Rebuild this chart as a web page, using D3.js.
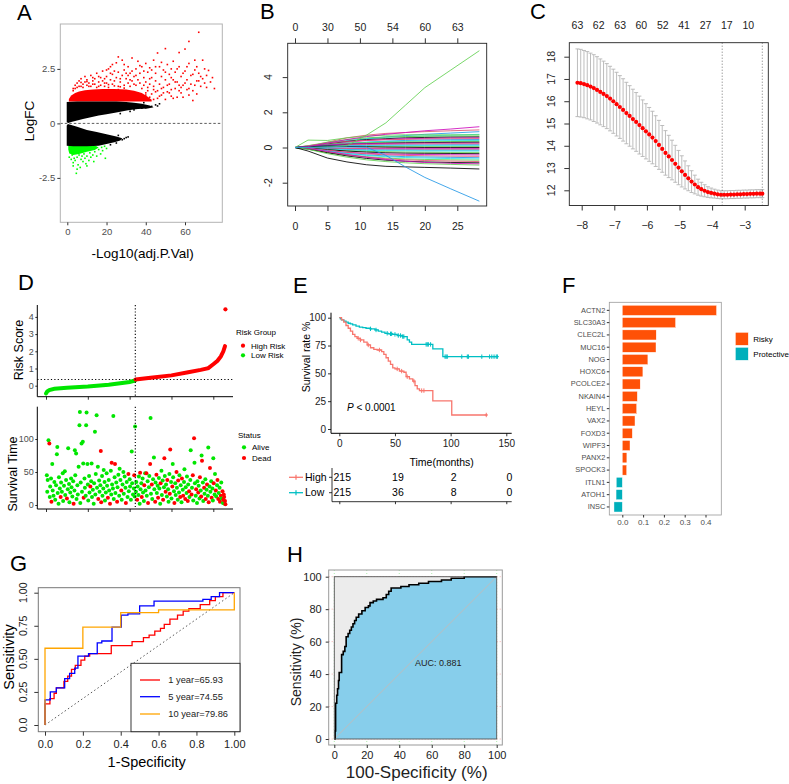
<!DOCTYPE html>
<html><head><meta charset="utf-8">
<script src="https://cdn.jsdelivr.net/npm/d3@7/dist/d3.min.js"></script>
<style>
body{margin:0;background:#fff}
svg{display:block}
</style></head><body>
<svg id="c" width="789" height="784"></svg>
<script>
// ================= DATA =================
// Panel A: volcano plot (-log10 adj P, logFC)
const volcanoBlackUpper = [[-0.3,0.05],[-0.3,0.98],[5,1.0],[15,1.0],[25,1.0],[30,0.98],[34,0.95],[38,0.9],[42,0.82],[44,0.74],[41,0.68],[36,0.66],[31,0.6],[25,0.5],[20,0.42],[16,0.36],[12,0.28],[8,0.2],[5,0.13],[2,0.06],[0.5,0.02]];
const volcanoBlackLower = [[0.3,-0.03],[5,-0.15],[10,-0.3],[15,-0.4],[20,-0.5],[25,-0.6],[28,-0.68],[27,-0.78],[24,-0.86],[20,-0.95],[16,-1.02],[10,-1.05],[3,-1.05],[-0.3,-1.02],[-0.3,-0.1]];
const volcanoBlackPts = [[32,0.55],[34,0.62],[38,0.7],[40,0.72],[43,0.78],[45,0.85],[46,0.8],[27,0.45],[29,-0.7],[30,-0.65],[28,-0.75],[25,-0.9],[22,-0.98],[31,-0.62],[26,-0.55],[33,0.9],[36,0.85],[39,0.95],[47,0.9]];
const volcanoRedCore = [[0.8,1.0],[0.8,1.12],[2,1.28],[4,1.4],[6,1.46],[9,1.52],[13,1.56],[18,1.58],[24,1.58],[30,1.55],[34,1.5],[38,1.4],[41,1.22],[43,1.08],[43,1.0]];
const volcanoRed = [[3,1.6],[4,1.75],[5,1.85],[5,1.65],[6,1.95],[7,1.7],[7,2.05],[8,1.8],[9,1.9],[9,2.15],[10,1.75],[10,2.0],[11,1.85],[12,2.2],[12,1.7],[13,1.95],[14,2.05],[14,1.8],[15,2.3],[15,1.65],[16,1.9],[17,2.1],[17,1.75],[18,2.4],[18,1.95],[19,1.7],[20,2.15],[20,1.85],[21,2.5],[21,1.65],[22,2.0],[22,2.6],[23,1.8],[23,2.25],[24,1.95],[25,2.78],[25,2.1],[26,1.7],[26,2.35],[27,1.9],[28,2.2],[28,2.9],[29,1.75],[29,2.45],[30,2.05],[31,1.85],[31,2.6],[32,2.3],[33,1.95],[33,3.0],[34,2.15],[35,1.75],[35,2.5],[36,2.0],[36,2.85],[37,1.85],[37,2.3],[38,2.6],[38,1.6],[39,2.1],[40,1.9],[40,2.75],[41,2.35],[41,1.5],[42,1.8],[42,2.55],[43,2.1],[43,1.35],[44,2.9],[44,1.7],[45,2.3],[45,1.95],[46,3.23],[46,1.5],[47,2.6],[47,1.8],[48,2.15],[48,1.3],[49,2.45],[49,1.65],[50,3.43],[50,2.0],[51,1.45],[51,2.7],[52,2.25],[52,1.8],[53,2.5],[53,1.25],[54,2.0],[54,2.85],[55,1.6],[55,2.35],[56,1.9],[57,3.25],[57,2.6],[58,2.15],[58,1.4],[59,1.75],[60,3.41],[60,2.4],[61,2.0],[61,1.55],[62,3.76],[62,2.75],[63,2.2],[63,1.8],[64,1.5],[65,2.45],[65,2.9],[66,1.95],[67,4.18],[67,2.3],[68,1.7],[69,2.9],[69,2.05],[70,2.5],[71,2.2],[72,2.43],[73,1.9],[75,1.6],[74,2.1],[66,1.35],[56,1.2],[46,1.15],[36,1.4],[30,1.5],[26,1.55],[44,1.1],[47,1.25],[50,1.1],[52,1.4],[54,1.15],[57,1.5],[59,1.2],[62,1.3],[64,1.05],[40,1.3],[38,1.1],
[4,1.6],[6,1.7],[8,1.65],[11,1.7],[13,1.8],[16,1.7],[19,1.85],[21,1.78],[24,1.72],[27,1.68],[29,1.62],[32,1.7],[34,1.8],[39,1.75],[3,1.5],[7,1.88],[10,1.92],[13,2.1],[16,2.15],[19,2.05],[22,2.3],[24,2.4],[27,2.05],[30,2.3],[32,2.0],[35,2.2],[39,2.4],[42,2.05],[45,2.6],[48,2.8],[50,2.35],[53,2.1],[56,2.5],[59,2.3],[61,2.6],[64,2.25],[66,2.6],[68,2.15],[70,1.85],[45,1.45],[48,1.6],[51,1.75],[55,1.9],[58,1.65],[60,1.85],[62,1.6],[65,1.75],[67,1.95],[71,1.65],[44,1.55],[41,1.65],[40,1.4],[42,1.2],[49,1.4],[53,1.55],[57,1.75],[26,3.05],[23,2.7],[20,2.45],[29,2.7],[37,2.65],[43,2.45],[33,2.4],[31,2.2]];
const volcanoGreenCore = [[0.5,-1.0],[14,-1.0],[16,-1.1],[14,-1.22],[10,-1.3],[6,-1.4],[3,-1.45],[1,-1.38],[0.5,-1.2]];
const volcanoGreen = [[1,-1.55],[2,-1.65],[2.5,-1.45],[3,-1.8],[3.5,-1.6],[4,-1.7],[4.6,-2.29],[5,-1.55],[5.5,-1.9],[6,-1.45],[6.6,-2.02],[7,-1.65],[7.5,-1.5],[8,-1.75],[8.5,-1.4],[9,-1.6],[9.5,-1.85],[10,-1.5],[11,-1.7],[11.5,-1.35],[12,-1.55],[13,-1.45],[13.5,-1.75],[14,-1.3],[15,-1.5],[16,-1.2],[17,-1.4],[18,-1.25],[19.4,-1.6],[20,-1.15],[17.5,-1.1],[19,-1.05],[3,-1.95],[5,-2.1],[10,-1.95],[8,-1.2],[12,-1.15],[4,-1.3]];
const volcanoXTicks = [0,20,40,60];
const volcanoYTicks = [-2.5,0,2.5];

// Panel B: LASSO coefficient paths
const lassoX = [0,2,5,8,11,14,17,20,24,28.4];
const lassoPaths = [
 [0,0,0.02,0.1,0.7,1.4,2.4,3.4,4.4,5.5],
 [0,0.01,0.02,0.03,0.02,-0.45,-1.1,-1.7,-2.35,-3.05],
 [0,-0.2,-0.6,-0.82,-0.98,-1.07,-1.1,-1.13,-1.17,-1.22],
 [0,0.05,0.25,0.45,0.62,0.75,0.85,0.95,1.05,1.18],
 [0,0.42,0.4,0.55,0.65,0.7,0.72,0.72,0.72,0.72],
 [0,0.05,0.3,0.55,0.7,0.8,0.85,0.9,0.95,1.0],
 [0,0.02,0.15,0.35,0.5,0.6,0.68,0.75,0.82,0.9],
 [0,0.08,0.25,0.4,0.5,0.58,0.62,0.66,0.7,0.75],
 [0,0.1,0.3,0.45,0.55,0.6,0.62,0.64,0.65,0.65],
 [0,0.05,0.2,0.35,0.45,0.5,0.55,0.57,0.59,0.6],
 [0,0.03,0.15,0.3,0.4,0.46,0.5,0.52,0.54,0.55],
 [0,0.1,0.25,0.35,0.4,0.44,0.46,0.48,0.49,0.5],
 [0,0.02,0.1,0.2,0.3,0.36,0.4,0.42,0.44,0.45],
 [0,0.05,0.15,0.25,0.3,0.34,0.36,0.38,0.39,0.4],
 [0,0.08,0.18,0.25,0.28,0.3,0.32,0.33,0.34,0.35],
 [0,0.03,0.1,0.18,0.22,0.25,0.27,0.28,0.29,0.3],
 [0,0.06,0.15,0.2,0.22,0.23,0.24,0.25,0.25,0.25],
 [0,0.02,0.08,0.14,0.17,0.18,0.19,0.2,0.2,0.2],
 [0,0.04,0.08,0.1,0.12,0.13,0.14,0.14,0.15,0.15],
 [0,0.02,0.05,0.07,0.08,0.09,0.1,0.1,0.1,0.1],
 [0,0.01,0.03,0.04,0.04,0.05,0.05,0.05,0.05,0.05],
 [0,0.05,0.08,0.06,0.04,0.02,0.01,0,0,0],
 [0,-0.01,-0.03,-0.04,-0.05,-0.05,-0.05,-0.05,-0.05,-0.05],
 [0,-0.02,-0.05,-0.07,-0.08,-0.09,-0.1,-0.1,-0.1,-0.1],
 [0,-0.03,-0.08,-0.11,-0.13,-0.14,-0.14,-0.15,-0.15,-0.15],
 [0,-0.04,-0.1,-0.14,-0.17,-0.18,-0.19,-0.2,-0.2,-0.2],
 [0,-0.05,-0.13,-0.19,-0.22,-0.24,-0.26,-0.27,-0.28,-0.28],
 [0,-0.03,-0.12,-0.2,-0.26,-0.3,-0.32,-0.33,-0.34,-0.35],
 [0,-0.06,-0.18,-0.27,-0.33,-0.37,-0.39,-0.4,-0.41,-0.42],
 [0,-0.04,-0.15,-0.28,-0.36,-0.42,-0.45,-0.47,-0.49,-0.5],
 [0,-0.08,-0.22,-0.34,-0.42,-0.48,-0.52,-0.54,-0.56,-0.58],
 [0,-0.05,-0.2,-0.35,-0.45,-0.52,-0.57,-0.6,-0.63,-0.65],
 [0,-0.1,-0.28,-0.42,-0.52,-0.6,-0.65,-0.68,-0.7,-0.72],
 [0,-0.06,-0.25,-0.42,-0.55,-0.64,-0.7,-0.74,-0.77,-0.8],
 [0,-0.08,-0.3,-0.48,-0.62,-0.72,-0.78,-0.82,-0.85,-0.87],
 [0,-0.05,-0.22,-0.4,-0.55,-0.68,-0.78,-0.85,-0.9,-0.93],
 [0,-0.1,-0.35,-0.55,-0.7,-0.8,-0.87,-0.92,-0.96,-1.0]
];
const lassoColors = ["#61D04F","#2297E6","#000000","#CD0BBC","#61D04F","#DF536B","#2297E6","#28E2E5","#61D04F","#000000","#CD0BBC","#DF536B","#2297E6","#28E2E5","#61D04F","#000000","#CD0BBC","#DF536B","#2297E6","#28E2E5","#61D04F","#000000","#CD0BBC","#DF536B","#2297E6","#28E2E5","#61D04F","#000000","#CD0BBC","#DF536B","#2297E6","#28E2E5","#61D04F","#DF536B","#000000","#CD0BBC","#61D04F"];
const lassoBottomTicks = [0,5,10,15,20,25];
const lassoTopLabels = ["0","30","50","54","60","63"];
const lassoYTicks = [-2,0,2,4];

// Panel C: cross-validation curve
const cvLogLambda = [-8.13,-8.03,-7.93,-7.83,-7.73,-7.63,-7.53,-7.43,-7.33,-7.23,-7.13,-7.03,-6.93,-6.83,-6.73,-6.63,-6.53,-6.43,-6.33,-6.23,-6.13,-6.03,-5.93,-5.83,-5.73,-5.63,-5.53,-5.43,-5.33,-5.23,-5.13,-5.03,-4.93,-4.83,-4.73,-4.63,-4.53,-4.43,-4.33,-4.23,-4.13,-4.03,-3.93,-3.83,-3.73,-3.63,-3.53,-3.43,-3.33,-3.23,-3.13,-3.03,-2.93,-2.83,-2.73,-2.63,-2.53,-2.46];
const cvMean = [16.83,16.81,16.77,16.72,16.66,16.59,16.51,16.42,16.33,16.23,16.12,16.00,15.87,15.74,15.61,15.47,15.34,15.20,15.07,14.93,14.79,14.65,14.51,14.37,14.21,14.04,13.86,13.68,13.52,13.36,13.19,13.02,12.85,12.69,12.54,12.39,12.26,12.14,12.05,11.98,11.92,11.88,11.85,11.82,11.80,11.80,11.80,11.81,11.81,11.82,11.82,11.83,11.83,11.84,11.84,11.85,11.85,11.85];
const cvSE = [1.52,1.52,1.51,1.51,1.50,1.50,1.49,1.48,1.47,1.46,1.45,1.44,1.43,1.41,1.40,1.38,1.36,1.34,1.32,1.30,1.27,1.24,1.21,1.18,1.14,1.10,1.05,1.00,0.95,0.89,0.83,0.77,0.70,0.63,0.56,0.49,0.42,0.36,0.31,0.27,0.24,0.22,0.20,0.19,0.18,0.18,0.18,0.18,0.18,0.18,0.18,0.18,0.18,0.18,0.18,0.18,0.18,0.18];
const cvTopPos = [-8.13,-7.48,-6.82,-6.17,-5.51,-4.86,-4.20,-3.55,-2.89];
const cvTopLabels = ["63","62","63","60","52","41","27","17","10"];
const cvLambdaMin = -3.69, cvLambda1se = -2.46;
const cvXTicks = [-8,-7,-6,-5,-4,-3];
const cvYTicks = [12,13,14,15,16,17,18];

// Panel D: risk score and survival status
const riskIdx = [0,3,8,20,50,100,150,200,213,214,250,300,340,370,388,400,410,418,424,428];
const riskVal = [-0.45,-0.33,-0.25,-0.18,-0.12,-0.05,0.06,0.22,0.30,0.36,0.46,0.60,0.78,0.92,1.02,1.25,1.45,1.7,2.0,2.3];
const riskOutlier = [429,4.44];
const riskCutIdx = 213.5, riskCutVal = 0.36;
const riskYTicks = [0,1,2,3,4];
const survYTicks = [0,50,100];
const patientTicks = [0,100,200,300,400];
const survPts = [[2,45,0],[3,20,0],[4,38,0],[6,98,0],[8,93,1],[9,12,0],[10,28,0],[12,40,0],[13,5,1],[15,62,0],[16,22,0],[18,14,0],[20,35,0],[22,8,0],[24,30,0],[26,77,0],[27,88,0],[28,18,0],[30,2,0],[31,42,0],[33,25,0],[35,12,1],[36,34,0],[38,20,0],[40,48,0],[41,6,0],[43,29,0],[45,51,0],[46,15,0],[48,38,0],[50,10,1],[52,24,0],[53,86,0],[55,32,0],[56,4,0],[58,19,0],[60,40,0],[61,27,0],[63,13,0],[65,36,0],[66,2,1],[68,22,0],[69,83,0],[70,45,0],[72,78,0],[73,9,0],[75,30,0],[76,16,0],[78,58,0],[80,121,0],[81,141,0],[82,3,0],[83,34,0],[85,93,0],[86,20,0],[88,96,0],[89,63,0],[90,11,1],[92,40,0],[93,26,0],[95,14,0],[96,121,0],[97,140,0],[99,62,0],[100,31,0],[101,7,0],[103,44,0],[104,19,0],[106,28,1],[108,36,0],[109,63,0],[110,12,0],[112,23,0],[114,2,0],[115,33,0],[117,111,0],[118,16,0],[119,47,0],[121,136,0],[122,26,0],[124,58,0],[125,9,1],[127,37,0],[128,20,0],[130,30,0],[131,82,1],[132,4,1],[134,44,0],[135,14,0],[137,25,0],[138,53,0],[140,35,0],[141,7,0],[143,19,0],[145,48,0],[146,29,0],[148,11,1],[150,38,0],[151,22,0],[153,2,1],[155,52,0],[156,16,0],[157,64,1],[158,31,0],[160,25,0],[161,135,0],[162,9,0],[164,42,0],[165,62,1],[166,18,0],[168,34,0],[170,5,1],[171,27,0],[173,46,0],[175,14,0],[176,55,0],[178,38,0],[180,22,1],[181,8,0],[183,31,0],[185,50,0],[186,17,0],[188,43,0],[190,26,0],[191,3,1],[193,35,0],[195,12,0],[197,47,1],[198,21,0],[200,39,0],[201,28,0],[203,8,0],[205,81,0],[206,33,0],[208,16,0],[210,25,0],[211,45,1],[212,13,0],[213,119,0],
[215,20,0],[216,35,0],[218,8,1],[219,28,0],[221,15,0],[222,43,0],[224,2,0],[225,49,1],[226,24,0],[228,33,0],[229,12,1],[231,40,0],[232,19,0],[234,6,0],[235,30,1],[237,48,0],[238,22,0],[240,48,1],[241,14,0],[243,36,0],[244,3,1],[246,27,0],[247,44,0],[249,62,1],[250,132,0],[251,17,0],[253,31,1],[254,9,0],[256,39,0],[258,72,0],[259,24,0],[261,5,1],[262,34,0],[264,46,1],[265,18,0],[267,29,0],[268,11,1],[270,41,0],[271,25,0],[273,2,0],[274,33,1],[276,52,0],[277,15,0],[279,37,0],[280,8,1],[282,27,0],[283,71,1],[284,44,0],[286,20,1],[287,31,0],[289,13,0],[290,38,1],[292,24,0],[293,5,0],[295,47,0],[296,17,1],[297,84,1],[299,35,0],[300,10,0],[302,28,1],[303,62,0],[304,42,0],[306,21,0],[307,3,1],[309,33,0],[310,15,0],[312,50,1],[313,26,0],[315,8,0],[316,37,1],[318,19,0],[319,45,0],[321,12,1],[322,30,0],[324,4,0],[325,40,1],[327,23,0],[328,14,1],[330,35,0],[331,54,0],[333,9,1],[334,27,0],[336,18,0],[337,43,0],[339,6,1],[340,31,0],[342,21,1],[343,12,0],[345,38,0],[346,83,0],[348,16,1],[349,26,0],[351,45,1],[352,7,0],[354,101,1],[355,64,0],[356,33,0],[358,14,0],[359,24,1],[361,3,0],[362,36,0],[364,19,1],[365,29,0],[367,10,0],[368,42,1],[370,22,0],[371,13,1],[372,75,0],[373,67,1],[375,34,0],[376,6,0],[378,26,1],[379,17,0],[381,39,0],[382,9,1],[384,23,0],[385,31,1],[387,14,0],[388,87,0],[389,4,1],[391,28,0],[392,56,1],[393,20,0],[395,36,0],[396,11,1],[398,25,0],[399,7,0],[400,71,0],[401,33,1],[403,16,0],[404,47,0],[406,22,1],[407,13,0],[409,30,0],[410,38,1],[412,9,1],[413,18,0],[415,26,0],[416,5,1],[418,14,1],[419,34,0],[420,10,0],[422,21,1],[423,3,0],[424,8,1],[425,16,1],[426,12,1],[427,2,0],[428,6,1],[429,1,1]];

// Panel E: Kaplan-Meier
const kmLowT = [0,1,2,4,6,8,10,12,15,18,21,24,28,32,35,38,41,44,48,52,57,61,63,65,84,93,142];
const kmLowS = [100,99,98,97,96,95,94.5,93.5,92.5,91.5,91,90.5,90,89,88,87,86,85.5,85,84,83,80,78,76,72,65,65];
const kmHighT = [0,2,4,6,8,10,12,14,16,19,22,25,28,31,34,38,40,42,44,46,48,50,54,58,60,63,66,68,70,72,84,101,133];
const kmHighS = [100,98,96,93,90.5,88,85,83,81.5,80,78,75.5,73,71.5,71,69.6,67,64,61,58,55,54,52,51,47,45,43,39,36,34.5,25.2,12.6,12.6];
const kmLowCensor = [28,33,43,46,47,50,53,55,57,58,78,79,80,82,95,96,97,110,115,116,128,135,137,139,141,142];
const kmHighCensor = [17,19,26,36,52,56,61,67,74,76,132];
const kmXTicks = [0,50,100,150];
const kmYTicks = [0,25,50,75,100];
const riskTableHigh = [215,19,2,0];
const riskTableLow = [215,36,8,0];

// Panel F: coefficients
const genes = ["ACTN2","SLC30A3","CLEC2L","MUC16","NOG","HOXC6","PCOLCE2","NKAIN4","HEYL","VAX2","FOXD3","WIPF3","PANX2","SPOCK3","ITLN1","ATOH1","INSC"];
const coefs = [0.453,0.256,0.163,0.162,0.123,0.099,0.086,0.072,0.069,0.061,0.048,0.037,0.022,0.021,-0.029,-0.030,-0.040];
const coefTicks = [0,0.1,0.2,0.3,0.4];

// Panel G: time-dependent ROC
const roc1 = [[0,0],[0,0.16],[0.026,0.16],[0.026,0.2],[0.048,0.2],[0.048,0.24],[0.06,0.24],[0.06,0.28],[0.1,0.28],[0.1,0.33],[0.12,0.33],[0.12,0.37],[0.14,0.37],[0.14,0.42],[0.16,0.42],[0.16,0.45],[0.19,0.45],[0.19,0.49],[0.21,0.49],[0.21,0.52],[0.236,0.52],[0.236,0.54],[0.35,0.54],[0.35,0.6],[0.46,0.6],[0.46,0.63],[0.52,0.63],[0.52,0.66],[0.55,0.66],[0.55,0.68],[0.58,0.68],[0.58,0.71],[0.61,0.71],[0.61,0.73],[0.63,0.73],[0.63,0.76],[0.66,0.76],[0.66,0.8],[0.7,0.8],[0.7,0.83],[0.73,0.83],[0.73,0.86],[0.76,0.86],[0.76,0.88],[0.82,0.88],[0.82,0.91],[0.87,0.91],[0.87,0.94],[0.9,0.94],[0.9,0.97],[0.94,0.97],[0.94,1],[1,1]];
const roc5 = [[0,0],[0,0.19],[0.028,0.19],[0.028,0.25],[0.06,0.25],[0.06,0.28],[0.104,0.28],[0.104,0.35],[0.13,0.35],[0.13,0.39],[0.157,0.39],[0.157,0.43],[0.174,0.43],[0.174,0.52],[0.23,0.52],[0.23,0.54],[0.276,0.54],[0.276,0.62],[0.3,0.62],[0.3,0.635],[0.354,0.635],[0.354,0.74],[0.403,0.74],[0.403,0.83],[0.438,0.83],[0.438,0.84],[0.5,0.84],[0.5,0.9],[0.576,0.9],[0.576,0.937],[0.834,0.937],[0.834,0.95],[0.878,0.95],[0.878,0.97],[0.922,0.97],[0.922,1],[1,1]];
const roc10 = [[0,0],[0,0.58],[0.2,0.58],[0.2,0.74],[0.4,0.74],[0.4,0.85],[0.6,0.85],[0.6,0.87],[1,0.87],[1,1]];
const rocLegend = ["1 year=65.93","5 year=74.55","10 year=79.86"];
const rocColors = ["#FF0000","#0000FF","#FFA500"];
const rocXTicks = [0,0.2,0.4,0.6,0.8,1];
const rocXLabels = ["0.0","0.2","0.4","0.6","0.8","1.00"];
const rocYTicks = [0,0.25,0.5,0.75,1];
const rocYLabels = ["0.0","0.25","0.50","0.75","1.00"];

// Panel H: ROC
const hFpr = [0,0.5,0.5,0.8,0.8,1.5,1.5,2,2,2.6,2.6,3,3,4.5,4.5,5.5,5.5,6.5,6.5,7.3,7.3,8.5,8.5,9.5,9.5,10.5,10.5,11.5,11.5,12.5,12.5,13.5,13.5,15,15,17,17,19,19,21,21,22,22,24,24,26,26,30,30,32,32,33.5,33.5,35,35,41,41,46,46,52,52,58,58,66,66,72,72,80,80,100];
const hTpr = [0,0,5,5,22,22,27,27,31,31,36,36,41,41,52,52,54,54,57,57,63,63,65,65,67,67,69,69,71,71,73,73,75,75,77,77,79,79,81,81,82,82,84,84,85,85,86,86,87,87,89,89,91,91,93,93,94,94,95,95,96,96,97,97,98,98,99,99,100,100];
const hTicks = [0,20,40,60,80,100];
const hAUC = "AUC: 0.881";

// ================= DRAW =================
const FONT = '"Liberation Sans", Arial, Helvetica, sans-serif';
const svg = d3.select('#c').attr('font-family', FONT);
svg.append('rect').attr('width',789).attr('height',784).attr('fill','#fff');
const intFmt = d3.format('d');

function letter(x,y,t){ svg.append('text').attr('x',x).attr('y',y).attr('font-size',22).attr('fill','#000').text(t); }
function sty(g, fs, lineCol, textCol){
  g.attr('font-family', FONT).attr('font-size', fs);
  g.selectAll('.tick line').attr('stroke', lineCol);
  g.selectAll('text').attr('fill', textCol);
  g.select('.domain').remove();
  return g;
}
function txt(g,x,y,s,fs,opt={}){
  const t = g.append('text').attr('x',x).attr('y',y).attr('font-size',fs).attr('fill',opt.fill||'#000')
    .attr('text-anchor',opt.anchor||'start').attr('dy',opt.dy===undefined?'0.35em':opt.dy).text(s);
  if(opt.rot) t.attr('transform',`rotate(${opt.rot},${x},${y})`);
  return t;
}
function clip(id,x,y,w,h){ svg.append('clipPath').attr('id',id).append('rect').attr('x',x).attr('y',y).attr('width',w).attr('height',h); }

letter(17,20,'A'); letter(260,19,'B'); letter(530,19,'C');
letter(18,290,'D'); letter(293,293,'E'); letter(562,293,'F');
letter(10,571,'G'); letter(287,562,'H');

// ---------- Panel A ----------
(function(){
  const x = d3.scaleLinear().domain([0,60]).range([67.3,185]);
  const y = d3.scaleLinear().domain([-2.5,2.5]).range([177.9,68.9]);
  const g = svg.append('g');
  clip('clipA',60.3,24,162,198.3);
  const pg = g.append('g').attr('clip-path','url(#clipA)');
  const ln = d3.line().x(d=>x(d[0])).y(d=>y(d[1]));
  pg.append('path').attr('d',ln(volcanoRedCore)+'Z').attr('fill','#ff0000');
  pg.append('path').attr('d',ln(volcanoGreenCore)+'Z').attr('fill','#00ff00');
  pg.selectAll('.r').data(volcanoRed).join('rect').attr('x',d=>x(d[0])-0.8).attr('y',d=>y(d[1])-0.8).attr('width',1.6).attr('height',1.6).attr('fill','#ff0000');
  pg.selectAll('.gr').data(volcanoGreen).join('rect').attr('x',d=>x(d[0])-0.8).attr('y',d=>y(d[1])-0.8).attr('width',1.6).attr('height',1.6).attr('fill','#00ff00');
  pg.append('path').attr('d',ln(volcanoBlackUpper)+'Z').attr('fill','#000');
  pg.append('path').attr('d',ln(volcanoBlackLower)+'Z').attr('fill','#000');
  pg.selectAll('.b').data(volcanoBlackPts).join('rect').attr('x',d=>x(d[0])-0.8).attr('y',d=>y(d[1])-0.8).attr('width',1.6).attr('height',1.6).attr('fill','#000');
  pg.append('line').attr('x1',60.3).attr('x2',222.3).attr('y1',y(0)).attr('y2',y(0)).attr('stroke','#333').attr('stroke-dasharray','2.5,2').attr('stroke-width',0.8);
  g.append('rect').attr('x',60.3).attr('y',24).attr('width',162).attr('height',198.3).attr('fill','none').attr('stroke','#b3b3b3').attr('stroke-width',1);
  sty(g.append('g').attr('transform','translate(60.3,0)').call(d3.axisLeft(y).tickValues(volcanoYTicks).tickSize(3).tickPadding(2).tickFormat(d=>String(d))),9.5,'#333','#4d4d4d');
  sty(g.append('g').attr('transform','translate(0,222.3)').call(d3.axisBottom(x).tickValues(volcanoXTicks).tickSize(3).tickPadding(3).tickFormat(intFmt)),9.5,'#333','#4d4d4d');
  txt(g,142.7,253,'-Log10(adj.P.Val)',13.5,{anchor:'middle'});
  txt(g,29,121,'LogFC',13.5,{anchor:'middle',rot:-90});
})();

// ---------- Panel B ----------
(function(){
  const x = d3.scaleLinear().domain([0,25]).range([295,457.3]);
  const y = d3.scaleLinear().domain([-2,4]).range([182.7,77.1]);
  const g = svg.append('g');
  clip('clipB',287.7,43.3,199,162.7);
  const pg = g.append('g').attr('clip-path','url(#clipB)');
  const ln = d3.line().x((d,i)=>x(lassoX[i])).y(d=>y(d));
  const order = d3.range(lassoPaths.length).slice(5).concat([4,3,2,0,1]);
  pg.selectAll('path').data(order).join('path').attr('d',i=>ln(lassoPaths[i])).attr('fill','none')
    .attr('stroke',i=>lassoColors[i]).attr('stroke-width',0.85);
  g.append('rect').attr('x',287.7).attr('y',43.3).attr('width',199).attr('height',162.7).attr('fill','none').attr('stroke','#222').attr('stroke-width',0.9);
  sty(g.append('g').attr('transform','translate(0,206)').call(d3.axisBottom(x).tickValues(lassoBottomTicks).tickSize(5).tickPadding(12).tickFormat(intFmt)),10.5,'#333','#222');
  sty(g.append('g').attr('transform','translate(0,43.3)').call(d3.axisTop(x).tickValues(lassoBottomTicks).tickSize(5).tickPadding(7).tickFormat((d,i)=>lassoTopLabels[i])),10.5,'#333','#222');
  sty(g.append('g').attr('transform','translate(287.7,0)').call(d3.axisLeft(y).tickValues(lassoYTicks).tickSize(5).tickFormat('')),10.5,'#333','#222');
  lassoYTicks.forEach(v=>txt(g,268,y(v),String(v),10.5,{anchor:'middle',rot:-90,fill:'#222'}));
})();

// ---------- Panel C ----------
(function(){
  const x = d3.scaleLinear().domain([-8,-3]).range([581.7,744.7]);
  const y = d3.scaleLinear().domain([12,18]).range([190.3,56.7]);
  const g = svg.append('g');
  const data = cvLogLambda.map((l,i)=>({l,m:cvMean[i],s:cvSE[i]}));
  const eb = g.append('g').attr('stroke','#b5b5b5').attr('stroke-width',0.9);
  eb.selectAll('.v').data(data).join('line').attr('x1',d=>x(d.l)).attr('x2',d=>x(d.l)).attr('y1',d=>y(d.m+d.s)).attr('y2',d=>y(d.m-d.s));
  eb.selectAll('.t').data(data).join('line').attr('x1',d=>x(d.l)-2).attr('x2',d=>x(d.l)+2).attr('y1',d=>y(d.m+d.s)).attr('y2',d=>y(d.m+d.s));
  eb.selectAll('.bo').data(data).join('line').attr('x1',d=>x(d.l)-2).attr('x2',d=>x(d.l)+2).attr('y1',d=>y(d.m-d.s)).attr('y2',d=>y(d.m-d.s));
  [cvLambdaMin,cvLambda1se].forEach(v=>g.append('line').attr('x1',x(v)).attr('x2',x(v)).attr('y1',42.7).attr('y2',205.5).attr('stroke','#555').attr('stroke-width',0.8).attr('stroke-dasharray','1,2'));
  g.selectAll('.p').data(data).join('circle').attr('cx',d=>x(d.l)).attr('cy',d=>y(d.m)).attr('r',2.1).attr('fill','#ff0000');
  g.append('rect').attr('x',569.3).attr('y',42.7).attr('width',199).attr('height',162.8).attr('fill','none').attr('stroke','#222').attr('stroke-width',0.9);
  sty(g.append('g').attr('transform','translate(0,205.5)').call(d3.axisBottom(x).tickValues(cvXTicks).tickSize(5).tickPadding(11).tickFormat(d=>'\u2212'+Math.abs(d))),10.5,'#333','#222');
  sty(g.append('g').attr('transform','translate(569.3,0)').call(d3.axisLeft(y).tickValues(cvYTicks).tickSize(5).tickFormat('')),10.5,'#333','#222');
  cvYTicks.forEach(v=>txt(g,551.5,y(v),String(v),10.5,{anchor:'middle',rot:-90,fill:'#222'}));
  cvTopPos.forEach((v,i)=>txt(g,x(v),25,cvTopLabels[i],10.5,{anchor:'middle',fill:'#222'}));
})();

// ---------- Panel D ----------
(function(){
  const x = d3.scaleLinear().domain([0,400]).range([46,213.3]);
  const y1 = d3.scaleLinear().domain([0,4]).range([385.7,316.9]);
  const y2 = d3.scaleLinear().domain([0,100]).range([505,439]);
  const g = svg.append('g');
  const RED='#ff0000', GRN='#00e600';
  g.append('line').attr('x1',37.3).attr('x2',233).attr('y1',y1(riskCutVal)).attr('y2',y1(riskCutVal)).attr('stroke','#000').attr('stroke-dasharray','1.2,2.2').attr('stroke-width',1);
  const pts = riskIdx.map((v,i)=>[v,riskVal[i]]);
  const low = pts.filter(d=>d[0]<riskCutIdx), high = pts.filter(d=>d[0]>riskCutIdx);
  const ln = d3.line().x(d=>x(d[0])).y(d=>y1(d[1]));
  g.append('path').attr('d',ln(low)).attr('fill','none').attr('stroke',GRN).attr('stroke-width',4).attr('stroke-linecap','round');
  g.append('path').attr('d',ln(high)).attr('fill','none').attr('stroke',RED).attr('stroke-width',4).attr('stroke-linecap','round');
  g.selectAll('.ro').data([riskOutlier]).join('circle').attr('cx',d=>x(d[0])).attr('cy',d=>y1(d[1])).attr('r',2.1).attr('fill',RED);
  g.append('line').attr('x1',x(riskCutIdx)).attr('x2',x(riskCutIdx)).attr('y1',305).attr('y2',396.7).attr('stroke','#000').attr('stroke-dasharray','1.2,2').attr('stroke-width',1.1);
  sty(g.append('g').attr('transform','translate(37.3,0)').call(d3.axisLeft(y1).tickValues(riskYTicks).tickSize(2).tickPadding(1.5).tickFormat(intFmt)),9,'#333','#4d4d4d');
  g.append('line').attr('x1',37.3).attr('x2',37.3).attr('y1',305).attr('y2',396.7).attr('stroke','#000');
  sty(g.append('g').attr('transform','translate(0,396.7)').call(d3.axisBottom(x).tickValues(patientTicks).tickSize(3).tickFormat('')),9,'#333','#4d4d4d');
  g.append('line').attr('x1',37.3).attr('x2',233).attr('y1',396.7).attr('y2',396.7).attr('stroke','#000');
  txt(g,18.5,350,'Risk Score',12.5,{anchor:'middle',rot:-90});
  txt(g,236,332,'Risk Group',8);
  g.append('circle').attr('cx',243).attr('cy',345.7).attr('r',2.1).attr('fill',RED);
  txt(g,251,345.7,'High Risk',8);
  g.append('circle').attr('cx',243).attr('cy',355.3).attr('r',2.1).attr('fill',GRN);
  txt(g,251,355.3,'Low Risk',8);
  g.selectAll('.sp').data(survPts).join('circle').attr('cx',d=>x(d[0])).attr('cy',d=>y2(d[1])).attr('r',2).attr('fill',d=>d[2]?RED:GRN);
  g.append('line').attr('x1',x(riskCutIdx)).attr('x2',x(riskCutIdx)).attr('y1',406.7).attr('y2',509).attr('stroke','#000').attr('stroke-dasharray','1.2,2').attr('stroke-width',1.1);
  sty(g.append('g').attr('transform','translate(37.3,0)').call(d3.axisLeft(y2).tickValues(survYTicks).tickSize(2).tickPadding(1.5).tickFormat(intFmt)),9,'#333','#4d4d4d');
  g.append('line').attr('x1',37.3).attr('x2',37.3).attr('y1',406.7).attr('y2',509).attr('stroke','#000');
  sty(g.append('g').attr('transform','translate(0,509)').call(d3.axisBottom(x).tickValues(patientTicks).tickSize(3).tickFormat('')),9,'#333','#4d4d4d');
  g.append('line').attr('x1',37.3).attr('x2',233).attr('y1',509).attr('y2',509).attr('stroke','#000');
  txt(g,12.5,474,'Survival Time',12.5,{anchor:'middle',rot:-90});
  txt(g,238,435,'Status',8);
  g.append('circle').attr('cx',244).attr('cy',447.3).attr('r',2.1).attr('fill',GRN);
  txt(g,252,447.3,'Alive',8);
  g.append('circle').attr('cx',244).attr('cy',458).attr('r',2.1).attr('fill',RED);
  txt(g,252,458,'Dead',8);
})();

// ---------- Panel E ----------
(function(){
  const x = d3.scaleLinear().domain([0,150]).range([339.3,506.3]);
  const y = d3.scaleLinear().domain([0,100]).range([429,317.7]);
  const g = svg.append('g');
  const HI='#F8766D', LO='#00BFC4';
  const ln = d3.line().x(d=>x(d[0])).y(d=>y(d[1])).curve(d3.curveStepAfter);
  const low = kmLowT.map((t,i)=>[t,kmLowS[i]]), high = kmHighT.map((t,i)=>[t,kmHighS[i]]);
  const at = (T,S,t)=>S[d3.bisectRight(T,t)-1];
  g.append('path').attr('d',ln(low)).attr('fill','none').attr('stroke',LO).attr('stroke-width',1.3);
  g.append('path').attr('d',ln(high)).attr('fill','none').attr('stroke',HI).attr('stroke-width',1.3);
  const cross = (arr,T,S,col)=>arr.forEach(t=>{const cx=x(t), cy=y(at(T,S,t));
    g.append('line').attr('x1',cx).attr('x2',cx).attr('y1',cy-2.2).attr('y2',cy+2.2).attr('stroke',col).attr('stroke-width',1);
    g.append('line').attr('x1',cx-1.5).attr('x2',cx+1.5).attr('y1',cy).attr('y2',cy).attr('stroke',col).attr('stroke-width',1);});
  cross(kmLowCensor,kmLowT,kmLowS,LO);
  cross(kmHighCensor,kmHighT,kmHighS,HI);
  sty(g.append('g').attr('transform','translate(331,0)').call(d3.axisLeft(y).tickValues(kmYTicks).tickSize(3).tickPadding(2).tickFormat(intFmt)),10,'#333','#222');
  sty(g.append('g').attr('transform','translate(0,433.3)').call(d3.axisBottom(x).tickValues(kmXTicks).tickSize(3).tickPadding(4).tickFormat(intFmt)),10,'#333','#222');
  g.append('line').attr('x1',331).attr('x2',331).attr('y1',312.7).attr('y2',433.3).attr('stroke','#000');
  g.append('line').attr('x1',331).attr('x2',511.7).attr('y1',433.3).attr('y2',433.3).attr('stroke','#000');
  txt(g,441.7,462.7,'Time(months)',10.5,{anchor:'middle'});
  txt(g,306.5,357,'Survival rate %',10.5,{anchor:'middle',rot:-90});
  const p = g.append('text').attr('x',347).attr('y',407.3).attr('dy','0.35em').attr('font-size',10);
  p.append('tspan').attr('font-style','italic').text('P');
  p.append('tspan').text(' < 0.0001');
  const rows = [[riskTableHigh,'High',HI,477.3],[riskTableLow,'Low',LO,492.7]];
  rows.forEach(([vals,name,col,yy])=>{
    vals.forEach((v,i)=>txt(g,x(kmXTicks[i])+3,yy,String(v),10.5,{anchor:'middle'}));
    g.append('line').attr('x1',289).attr('x2',303).attr('y1',yy).attr('y2',yy).attr('stroke',col).attr('stroke-width',1.3);
    g.append('line').attr('x1',296).attr('x2',296).attr('y1',yy-2.5).attr('y2',yy+2.5).attr('stroke',col).attr('stroke-width',1.2);
    txt(g,305,yy,name,10.5);
    g.append('line').attr('x1',329).attr('x2',332).attr('y1',yy).attr('y2',yy).attr('stroke','#333');
  });
  g.append('line').attr('x1',332).attr('x2',332).attr('y1',468).attr('y2',501.7).attr('stroke','#000').attr('stroke-width',0.8);
  sty(g.append('g').attr('transform','translate(0,501.7)').call(d3.axisBottom(x).tickValues(kmXTicks).tickSize(2.5).tickFormat('')),10,'#333','#222');
  g.append('line').attr('x1',332).attr('x2',511.7).attr('y1',501.7).attr('y2',501.7).attr('stroke','#000').attr('stroke-width',0.8);
})();

// ---------- Panel F ----------
(function(){
  const x = d3.scaleLinear().domain([0,0.4]).range([622.3,705.5]);
  const y = d3.scaleBand().domain(genes).range([303.1,514.2]).padding(0.18);
  const g = svg.append('g');
  const RISK='#FF5107', PROT='#00AFBB';
  g.selectAll('rect.bar').data(genes).join('rect').attr('class','bar')
    .attr('x',(d,i)=>x(Math.min(0,coefs[i]))).attr('width',(d,i)=>Math.abs(x(coefs[i])-x(0)))
    .attr('y',d=>y(d)).attr('height',y.bandwidth())
    .attr('fill',(d,i)=>coefs[i]>0?RISK:PROT).attr('stroke','#fff').attr('stroke-width',0.4);
  g.append('rect').attr('x',609.3).attr('y',302.3).attr('width',112).attr('height',212.7).attr('fill','none').attr('stroke','#9a9a9a').attr('stroke-width',0.8);
  sty(g.append('g').attr('transform','translate(609.3,0)').call(d3.axisLeft(y).tickSize(2.5).tickPadding(1.5)),7.4,'#333','#4d4d4d');
  sty(g.append('g').attr('transform','translate(0,515)').call(d3.axisBottom(x).tickValues(coefTicks).tickSize(2.5).tickPadding(1.5).tickFormat(d3.format('.1f'))),8,'#333','#4d4d4d');
  [['Risky',RISK,332.3],['Protective',PROT,347.3]].forEach(([n,c,yy])=>{
    g.append('rect').attr('x',735.3).attr('y',yy).attr('width',13).attr('height',13).attr('fill',c).attr('stroke','#fff').attr('stroke-width',0.5);
    txt(g,753.3,yy+6.5,n,8);
  });
})();

// ---------- Panel G ----------
(function(){
  const x = d3.scaleLinear().domain([0,1]).range([45,234.3]);
  const y = d3.scaleLinear().domain([0,1]).range([725,592.7]);
  const g = svg.append('g');
  const ln = d3.line().x(d=>x(d[0])).y(d=>y(d[1]));
  g.append('line').attr('x1',x(0)).attr('y1',y(0)).attr('x2',x(1)).attr('y2',y(1)).attr('stroke','#444').attr('stroke-dasharray','1.5,2.5').attr('stroke-width',0.9);
  [roc1,roc5,roc10].forEach((r,i)=>g.append('path').attr('d',ln(r)).attr('fill','none').attr('stroke',rocColors[i]).attr('stroke-width',1.3));
  g.append('rect').attr('x',38.3).attr('y',587.7).attr('width',201.7).attr('height',144).attr('fill','none').attr('stroke','#777').attr('stroke-width',1);
  g.append('rect').attr('x',131).attr('y',663.3).attr('width',109).attr('height',68.4).attr('fill','#fff').attr('stroke','#222').attr('stroke-width',0.9);
  [680,696.7,714].forEach((yy,i)=>{
    g.append('line').attr('x1',140).attr('x2',160).attr('y1',yy).attr('y2',yy).attr('stroke',rocColors[i]).attr('stroke-width',1.3);
    txt(g,168.3,yy,rocLegend[i],9.3,{fill:'#222'});
  });
  sty(g.append('g').attr('transform','translate(0,731.7)').call(d3.axisBottom(x).tickValues(rocXTicks).tickSize(4).tickPadding(5).tickFormat((d,i)=>rocXLabels[i])),11,'#333','#222');
  sty(g.append('g').attr('transform','translate(38.3,0)').call(d3.axisLeft(y).tickValues(rocYTicks).tickSize(4).tickFormat('')),11,'#333','#222');
  rocYTicks.forEach((v,i)=>txt(g,23,y(v),rocYLabels[i],10.5,{anchor:'middle',rot:-90,fill:'#222'}));
  txt(g,146.7,762,'1-Specificity',14.5,{anchor:'middle'});
  txt(g,9,657,'Sensitivity',14.5,{anchor:'middle',rot:-90});
})();

// ---------- Panel H ----------
(function(){
  const x = d3.scaleLinear().domain([0,100]).range([334.3,496.7]);
  const y = d3.scaleLinear().domain([0,100]).range([739,576.7]);
  const g = svg.append('g');
  hTicks.forEach(v=>{
    g.append('line').attr('x1',x(v)).attr('x2',x(v)).attr('y1',570).attr('y2',745).attr('stroke','#9be89b').attr('stroke-dasharray','1,2').attr('stroke-width',0.8);
    g.append('line').attr('y1',y(v)).attr('y2',y(v)).attr('x1',328.7).attr('x2',502.3).attr('stroke','#f3a0a0').attr('stroke-dasharray','1,2').attr('stroke-width',0.8);
  });
  g.append('rect').attr('x',x(0)).attr('y',y(100)).attr('width',x(100)-x(0)).attr('height',y(0)-y(100)).attr('fill','#ececec');
  const pts = hFpr.map((v,i)=>[v,hTpr[i]]);
  g.append('path').attr('d',d3.area().x(d=>x(d[0])).y0(y(0)).y1(d=>y(d[1]))(pts)).attr('fill','#87CEEB');
  g.append('line').attr('x1',x(0)).attr('y1',y(0)).attr('x2',x(100)).attr('y2',y(100)).attr('stroke','#bdbdbd').attr('stroke-width',1);
  g.append('path').attr('d',d3.line().x(d=>x(d[0])).y(d=>y(d[1]))(pts)).attr('fill','none').attr('stroke','#000').attr('stroke-width',1.6);
  g.append('rect').attr('x',x(0)).attr('y',y(100)).attr('width',x(100)-x(0)).attr('height',y(0)-y(100)).attr('fill','none').attr('stroke','#555').attr('stroke-width',0.9);
  g.append('rect').attr('x',328.7).attr('y',570).attr('width',173.6).attr('height',175).attr('fill','none').attr('stroke','#999').attr('stroke-width',1);
  sty(g.append('g').attr('transform','translate(0,745)').call(d3.axisBottom(x).tickValues(hTicks).tickSize(3).tickPadding(3).tickFormat(intFmt)),11,'#333','#222');
  sty(g.append('g').attr('transform','translate(328.7,0)').call(d3.axisLeft(y).tickValues(hTicks).tickSize(3).tickPadding(4).tickFormat(intFmt)),11,'#333','#222');
  txt(g,415,662.7,hAUC,9,{fill:'#222'});
  txt(g,416.7,772,'100-Specificity  (%)',17,{anchor:'middle',fill:'#222'});
  txt(g,296.5,662,'Sensitivity (%)',14,{anchor:'middle',rot:-90,fill:'#222'});
})();
</script>
</body></html>
